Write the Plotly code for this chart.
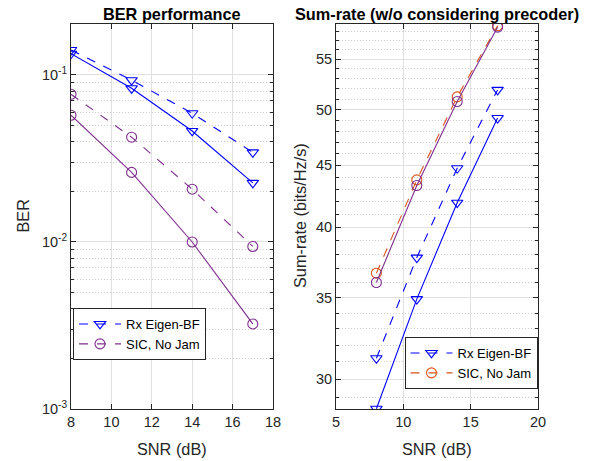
import plotly.graph_objects as go
import numpy as np

snr = [8, 11, 14, 17]

# BER (left)
ber_rx_dash = [0.141, 0.093, 0.059, 0.0344]
ber_rx_solid = [0.134, 0.0832, 0.0462, 0.0226]
ber_sic_dash = [0.0766, 0.0424, 0.0207, 0.0094]
ber_sic_solid = [0.0574, 0.0261, 0.0100, 0.00323]

# Sum-rate (right)
sr_rx_dash = [31.21, 37.77, 44.74, 51.9]
sr_rx_solid = [28.36, 34.91, 41.91, 49.2]
sr_sic_dash = [36.67, 43.76, 51.22, 58.6]
sr_sic_solid = [36.03, 43.30, 50.77, 58.45]

left_xticks = [8, 10, 12, 14, 16, 18]
right_xticks = [5, 10, 15, 20]
ber_ticks = [1e-3, 1e-2, 1e-1]
ber_ticktext = ["10<sup>-3</sup>", "10<sup>-2</sup>", "10<sup>-1</sup>"]
sr_ticks = [30, 35, 40, 45, 50, 55]

BLUE = "#0000FF"
PURPLE = "#7E2F8E"
ORANGE = "#D95319"
AX = "#262626"
FONT = "Liberation Sans, Arial, sans-serif"

fig = go.Figure()

def add(x, y, color, dash, symbol, name, xa, ya, legend, show):
    fig.add_trace(go.Scatter(
        x=x, y=y, mode="lines+markers", name=name,
        line=dict(color=color, width=1.1, dash=dash),
        marker=dict(symbol=symbol, size=10, color=color, line=dict(color=color, width=1.1)),
        xaxis=xa, yaxis=ya, legend=legend, showlegend=show))

tri = "triangle-down-open"
cir = "circle-open"
# Left
add(snr, ber_rx_dash, BLUE, "dash", tri, "Rx Eigen-BF", "x", "y", "legend", True)
add(snr, ber_sic_dash, PURPLE, "dash", cir, "SIC, No Jam", "x", "y", "legend", True)
add(snr, ber_rx_solid, BLUE, "solid", tri, "Rx Eigen-BF solid", "x", "y", "legend", False)
add(snr, ber_sic_solid, PURPLE, "solid", cir, "SIC solid", "x", "y", "legend", False)
# Right
add(snr, sr_rx_dash, BLUE, "dash", tri, "Rx Eigen-BF", "x2", "y2", "legend2", True)
add(snr, sr_sic_dash, ORANGE, "dash", cir, "SIC, No Jam", "x2", "y2", "legend2", True)
add(snr, sr_rx_solid, BLUE, "solid", tri, "Rx Eigen-BF solid", "x2", "y2", "legend2", False)
add(snr, sr_sic_solid, PURPLE, "solid", cir, "SIC solid", "x2", "y2", "legend2", False)

W, H = 592, 461
def px(x): return x / W
def py(y): return 1 - y / H

GRID = "#e0e0e0"
MINOR = "#cfcfcf"
TICKF = 14.5
LABF = 16.3

common = dict(showline=True, linecolor=AX, linewidth=1, mirror="ticks",
              ticks="inside", ticklen=5, tickcolor=AX, showgrid=True, gridcolor=GRID,
              gridwidth=1, zeroline=False, automargin=False,
              tickfont=dict(family=FONT, size=TICKF, color=AX))

ber_minor = [m * 10.0 ** e for e in (-3, -2) for m in range(2, 10)] + [0.2]
sr_minor = [v for v in range(28, 60) if v not in sr_ticks]

legend_common = dict(bgcolor="white", bordercolor=AX, borderwidth=1,
                     font=dict(family=FONT, size=13, color="black"), tracegroupgap=0,
                     itemwidth=42)

fig.update_layout(
    template="none",
    width=W, height=H, margin=dict(l=0, r=0, t=0, b=0, autoexpand=False),
    paper_bgcolor="white", plot_bgcolor="white",
    font=dict(family=FONT, color=AX),
    xaxis=dict(domain=[px(71), px(273)], range=[8, 18], tickvals=left_xticks, anchor="y", **common),
    yaxis=dict(domain=[py(409), py(24)], type="log", range=[-3, -0.695],
               tickvals=ber_ticks, ticktext=ber_ticktext, anchor="x",
               minor=dict(tickvals=ber_minor, ticks="inside", ticklen=3, tickcolor=AX,
                          showgrid=True, gridcolor=MINOR, griddash="1px,2px", gridwidth=1),
               **common),
    xaxis2=dict(domain=[px(336), px(538)], range=[5, 20], tickvals=right_xticks, anchor="y2", **common),
    yaxis2=dict(domain=[py(409), py(24)], type="log", range=[np.log10(28.35), np.log10(58.8)],
                tickvals=sr_ticks, anchor="x2",
                minor=dict(tickvals=sr_minor, ticks="inside", ticklen=3, tickcolor=AX,
                           showgrid=True, gridcolor=MINOR, griddash="1px,2px", gridwidth=1),
                **common),
    legend=dict(x=px(73), y=py(308), xanchor="left", yanchor="top", **legend_common),
    legend2=dict(x=px(537.5), y=py(389), xanchor="right", yanchor="bottom", **legend_common),
    annotations=[
        dict(text="<b>BER performance</b>", x=px(172), y=py(14), xref="paper", yref="paper",
             showarrow=False, font=dict(family=FONT, size=LABF, color="black"), xanchor="center", yanchor="middle"),
        dict(text="<b>Sum-rate (w/o considering precoder)</b>", x=px(437), y=py(14), xref="paper", yref="paper",
             showarrow=False, font=dict(family=FONT, size=LABF, color="black"), xanchor="center", yanchor="middle"),
        dict(text="BER", x=px(22.5), y=py(216), xref="paper", yref="paper", textangle=-90,
             showarrow=False, font=dict(family=FONT, size=LABF, color=AX), xanchor="center", yanchor="middle"),
        dict(text="Sum-rate (bits/Hz/s)", x=px(300), y=py(216), xref="paper", yref="paper", textangle=-90,
             showarrow=False, font=dict(family=FONT, size=LABF, color=AX), xanchor="center", yanchor="middle"),
        dict(text="SNR (dB)", x=px(172), y=py(449), xref="paper", yref="paper",
             showarrow=False, font=dict(family=FONT, size=LABF, color=AX), xanchor="center", yanchor="middle"),
        dict(text="SNR (dB)", x=px(437), y=py(449), xref="paper", yref="paper",
             showarrow=False, font=dict(family=FONT, size=LABF, color=AX), xanchor="center", yanchor="middle"),
    ],
)

fig.write_html("out.html")
